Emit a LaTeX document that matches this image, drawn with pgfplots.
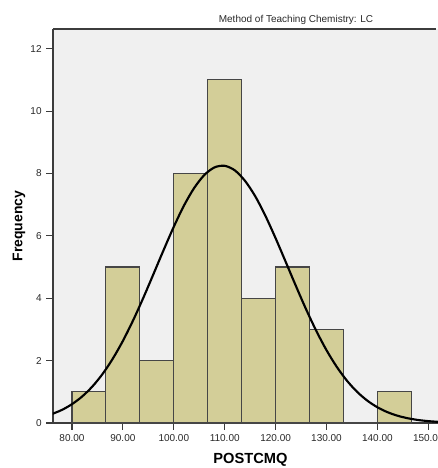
\documentclass[border=0pt]{standalone}
\usepackage{fontspec}
\setmainfont{Liberation Sans}
\usepackage{pgfplots}
\pgfplotsset{compat=1.18}

\definecolor{bggray}{RGB}{240,240,240}
\definecolor{barfill}{RGB}{211,206,152}
\definecolor{baredge}{RGB}{70,70,70}
\definecolor{axisgray}{RGB}{60,60,60}
\definecolor{textgray}{RGB}{40,40,40}

\begin{document}
\begin{tikzpicture}
\begin{axis}[
  scale only axis,
  width=288.75pt, height=295.5pt,
  xmin=76.27, xmax=151.9,
  ymin=0, ymax=12.63,
  axis x line=bottom, axis y line=left,
  axis line style={-, axisgray, line width=0.8pt},
  axis background/.style={fill=bggray},
  xtick={80,90,...,150},
  ytick={0,2,...,12},
  tick align=outside,
  major tick length=5pt,
  tick style={axisgray, line width=0.8pt},
  xticklabel style={/pgf/number format/.cd, fixed, fixed zerofill, precision=2},
  /pgf/number format/assume math mode=true,
  ticklabel style={font=\fontsize{7.5}{9}\selectfont, text=textgray},
  xlabel={\textbf{POSTCMQ}},
  ylabel={\textbf{Frequency}},
  xlabel style={font=\fontsize{11}{13}\selectfont, at={(axis description cs:0.513,0)}, anchor=north, yshift=-19pt},
  ylabel style={font=\fontsize{10.5}{12}\selectfont, yshift=-3pt},
  clip=true,
]
\addplot[ybar interval, fill=barfill, draw=baredge, line width=0.8pt] coordinates {
  (80,1) (86.667,5) (93.333,2) (100,8) (106.667,11) (113.333,4)
  (120,5) (126.667,3) (133.333,0) (140,1) (146.667,1)
};
\addplot[smooth, black, line width=1.6pt] coordinates {
  (76,0.283) (78,0.418) (80,0.604) (82,0.850) (84,1.169) (86,1.570)
  (88,2.058) (90,2.632) (92,3.288) (94,4.008) (96,4.772) (98,5.545)
  (100,6.291) (102,6.970) (104,7.533) (106,7.950) (108,8.194) (110,8.244)
  (112,8.097) (114,7.760) (116,7.267) (118,6.640) (120,5.923) (122,5.159)
  (124,4.387) (126,3.641) (128,2.950) (130,2.334) (132,1.803) (134,1.359)
  (136,1.000) (138,0.719) (140,0.504) (142,0.345) (144,0.231) (146,0.151)
  (148,0.096) (150,0.060) (152,0.036)
};
\coordinate (sw) at (rel axis cs:0,0);
\coordinate (ne) at (rel axis cs:1,1);
\end{axis}
\draw[axisgray, line width=0.8pt] (sw |- ne) -- ([xshift=-1.5pt]ne);
\node[font=\fontsize{7.5}{9}\selectfont, text=textgray] at ([xshift=-106.5pt, yshift=6.75pt]ne) {Method of Teaching Chemistry: LC};
\pgfresetboundingbox
\path[use as bounding box] ([xshift=-39.75pt, yshift=-33.75pt]sw) rectangle ([yshift=21.75pt]ne);
\end{tikzpicture}
\end{document}
